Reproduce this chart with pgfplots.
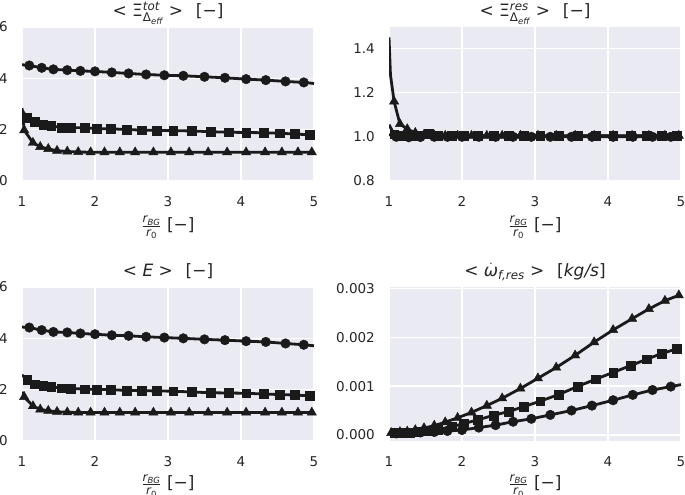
\documentclass[border=0pt]{standalone}
\usepackage{fontspec}
\setmainfont{DejaVu Sans}
\usepackage{amsmath}
\usepackage{pgfplots}
\usepackage{pgfplotstable}
\pgfplotsset{compat=1.18}

\definecolor{sbbg}{HTML}{EAEAF2}
\definecolor{ink}{HTML}{1A1A1A}

% ---- top left: <Xi_tot> ----
\pgfplotstableread{
x y
1.00 4.53
1.10 4.50
1.27 4.41
1.43 4.35
1.62 4.32
1.80 4.29
2.00 4.27
2.23 4.23
2.46 4.19
2.70 4.15
2.95 4.12
3.21 4.10
3.50 4.06
3.78 4.02
4.07 3.97
4.34 3.93
4.61 3.88
4.86 3.84
5.00 3.80
}\tlcirc
\pgfplotstableread{
x y
1.00 2.76
1.07 2.48
1.17 2.31
1.29 2.18
1.40 2.14
1.54 2.09
1.67 2.08
1.86 2.07
2.02 2.04
2.22 2.03
2.43 2.01
2.64 1.98
2.85 1.97
3.07 1.96
3.33 1.95
3.58 1.92
3.83 1.90
4.07 1.89
4.31 1.88
4.53 1.86
4.74 1.83
4.94 1.80
5.00 1.80
}\tlsq
\pgfplotstableread{
x y
1.00 2.84
1.03 1.98
1.15 1.49
1.25 1.33
1.36 1.25
1.48 1.18
1.62 1.15
1.77 1.13
1.94 1.12
2.13 1.12
2.34 1.12
2.55 1.12
2.80 1.12
3.04 1.12
3.29 1.12
3.55 1.12
3.81 1.12
4.07 1.12
4.33 1.12
4.56 1.12
4.78 1.12
4.97 1.12
5.00 1.12
}\tltri

% ---- top right: <Xi_res> ----
\pgfplotstableread{
x y
1.00 1.010
1.10 1.000
1.27 0.998
1.43 0.999
1.62 1.000
1.80 1.000
2.00 1.000
2.23 1.000
2.46 1.000
2.70 1.000
2.95 1.000
3.21 1.000
3.50 1.000
3.78 1.000
4.07 1.000
4.34 1.000
4.61 1.000
4.86 1.000
5.00 1.000
}\trcirc
\pgfplotstableread{
x y
1.00 1.055
1.07 1.012
1.17 1.006
1.29 1.005
1.40 1.004
1.54 1.015
1.67 1.005
1.86 1.004
2.02 1.005
2.22 1.004
2.43 1.005
2.64 1.004
2.85 1.005
3.07 1.004
3.33 1.004
3.58 1.004
3.83 1.005
4.07 1.004
4.31 1.004
4.53 1.005
4.74 1.004
4.94 1.004
5.00 1.004
}\trsq
\pgfplotstableread{
x y
1.00 1.450
1.02 1.280
1.07 1.160
1.15 1.058
1.25 1.035
1.36 1.018
1.48 1.010
1.62 1.006
1.77 1.005
1.94 1.005
2.13 1.005
2.34 1.005
2.55 1.005
2.80 1.005
3.04 1.005
3.29 1.005
3.55 1.005
3.81 1.005
4.07 1.005
4.33 1.005
4.56 1.005
4.78 1.005
4.97 1.005
5.00 1.005
}\trtri

% ---- bottom left: <E> ----
\pgfplotstableread{
x y
1.00 4.44
1.10 4.42
1.27 4.32
1.43 4.25
1.62 4.23
1.80 4.19
2.00 4.16
2.23 4.12
2.46 4.10
2.70 4.06
2.95 4.03
3.21 4.00
3.50 3.96
3.78 3.93
4.07 3.89
4.34 3.86
4.61 3.80
4.86 3.75
5.00 3.71
}\blcirc
\pgfplotstableread{
x y
1.00 2.57
1.07 2.40
1.17 2.21
1.29 2.15
1.40 2.11
1.54 2.06
1.67 2.05
1.86 2.02
2.02 2.01
2.22 2.00
2.43 1.97
2.64 1.96
2.85 1.95
3.07 1.94
3.33 1.91
3.58 1.88
3.83 1.87
4.07 1.86
4.31 1.83
4.53 1.81
4.74 1.79
4.94 1.76
5.00 1.76
}\blsq
\pgfplotstableread{
x y
1.00 1.92
1.03 1.72
1.15 1.36
1.25 1.23
1.36 1.18
1.48 1.14
1.62 1.12
1.77 1.11
1.94 1.11
2.13 1.11
2.34 1.11
2.55 1.11
2.80 1.11
3.04 1.11
3.29 1.11
3.55 1.11
3.81 1.11
4.07 1.11
4.33 1.11
4.56 1.11
4.78 1.11
4.97 1.11
5.00 1.11
}\bltri

% ---- bottom right: <omega_f,res> ----
\pgfplotstableread{
x y
1.00 0.00003
1.10 0.00003
1.27 0.00004
1.43 0.00005
1.62 0.00006
1.80 0.00008
2.00 0.00010
2.23 0.00015
2.46 0.00020
2.70 0.00027
2.95 0.00033
3.21 0.00041
3.50 0.00050
3.78 0.00060
4.07 0.00071
4.34 0.00082
4.61 0.00092
4.86 0.00099
5.00 0.00103
}\brcirc
\pgfplotstableread{
x y
1.00 0.00003
1.07 0.00004
1.17 0.00004
1.29 0.00005
1.40 0.00006
1.54 0.00008
1.67 0.00011
1.86 0.00017
2.02 0.00023
2.22 0.00031
2.43 0.00040
2.64 0.00048
2.85 0.00058
3.07 0.00069
3.33 0.00083
3.58 0.00099
3.83 0.00114
4.07 0.00128
4.31 0.00142
4.53 0.00155
4.74 0.00167
4.94 0.00176
5.00 0.00178
}\brsq
\pgfplotstableread{
x y
1.00 0.00004
1.03 0.00004
1.15 0.00006
1.25 0.00007
1.36 0.00010
1.48 0.00014
1.62 0.00019
1.77 0.00026
1.94 0.00035
2.13 0.00046
2.34 0.00060
2.55 0.00075
2.80 0.00095
3.04 0.00116
3.29 0.00138
3.55 0.00163
3.81 0.00190
4.07 0.00215
4.33 0.00238
4.56 0.00258
4.78 0.00275
4.97 0.00286
5.00 0.00288
}\brtri

\newcommand{\fracr}{$\frac{\text{\itshape r}_{\text{\itshape BG}}}{\text{\itshape r}_{\text{0}}}$ [−]}
\newcommand{\gap}{\hspace{0.75em}}

\pgfplotsset{
  sb/.style={
    scale only axis, width=292pt, height=154pt,
    axis background/.style={fill=sbbg},
    axis line style={draw=none},
    grid=major, major grid style={white, line width=1.3pt},
    tick style={draw=none},
    xmin=1, xmax=5, xtick={1,2,3,4,5},
    /pgf/number format/assume math mode=true,
    ticklabel style={font=\fontsize{13.5}{16}\selectfont, inner sep=0pt, text=black!85},
    xticklabel style={yshift=-15pt},
    yticklabel style={xshift=-14pt},
    title style={font=\fontsize{17}{20}\selectfont, at={(0.5,1)}, anchor=base,
                 yshift=4.5pt, inner sep=0pt, text=black!85},
    xlabel style={font=\fontsize{17}{20}\selectfont, at={(axis description cs:0.5,0)},
                  anchor=base, yshift=-49.5pt, inner sep=0pt, text=black!85},
    xlabel={\fracr},
  },
  low/.style={xlabel style={yshift=1.5pt}},
  ln/.style={ink, line width=2.8pt, no marks},
  mk/.style={ink, only marks, restrict x to domain=1.025:4.99,
             mark options={fill=ink, draw=ink, line width=0.4pt}},
  mc/.style={mk, mark=*, mark size=4.8pt},
  ms/.style={mk, mark=square*, mark size=4.4pt},
  mt/.style={mk, mark=triangle*, mark size=5.4pt},
}

\begin{document}
\begin{tikzpicture}
% top left
\begin{axis}[sb, at={(22pt,314pt)}, anchor=south west,
  ymin=0, ymax=6, ytick={0,2,4,6},
  title={< Ξ$^{\text{\itshape tot}}_{\text{Δ}_{\text{\itshape eff}}}$ >\gap[−]}]
\addplot[ln] table {\tlcirc};
\addplot[mc] table {\tlcirc};
\addplot[ln] table {\tlsq};
\addplot[ms] table {\tlsq};
\addplot[ln] table {\tltri};
\addplot[mt] table {\tltri};
\end{axis}
% top right
\begin{axis}[sb, at={(389pt,314pt)}, anchor=south west,
  ymin=0.8, ymax=1.497, ytick={0.8,1.0,1.2,1.4},
  yticklabel style={/pgf/number format/.cd, fixed, fixed zerofill, precision=1},
  title={< Ξ$^{\text{\itshape res}}_{\text{Δ}_{\text{\itshape eff}}}$ >\gap[−]}]
\addplot[ln] table {\trcirc};
\addplot[mc] table {\trcirc};
\addplot[ln] table {\trsq};
\addplot[ms] table {\trsq};
\addplot[ln] table {\trtri};
\addplot[mt] table {\trtri};
\end{axis}
% bottom left
\begin{axis}[sb, low, at={(22pt,54pt)}, anchor=south west,
  ymin=0, ymax=6, ytick={0,2,4,6},
  title={< \textit{E} >\gap[−]}]
\addplot[ln] table {\blcirc};
\addplot[mc] table {\blcirc};
\addplot[ln] table {\blsq};
\addplot[ms] table {\blsq};
\addplot[ln] table {\bltri};
\addplot[mt] table {\bltri};
\end{axis}
% bottom right
\begin{axis}[sb, low, at={(389pt,54pt)}, anchor=south west,
  ymin=-0.000125, ymax=0.00303, ytick={0,0.001,0.002,0.003},
  scaled y ticks=false,
  yticklabel style={/pgf/number format/.cd, fixed, fixed zerofill, precision=3},
  title={< $\dot{\text{\itshape ω}}_{\text{\itshape f,res}}$ >\gap[\textit{kg/s}]}]
\addplot[ln] table {\brcirc};
\addplot[mc] table {\brcirc};
\addplot[ln] table {\brsq};
\addplot[ms] table {\brsq};
\addplot[ln] table {\brtri};
\addplot[mt] table {\brtri};
\end{axis}
\pgfresetboundingbox
\useasboundingbox (0pt,0pt) rectangle (685pt,495pt);
\end{tikzpicture}
\end{document}
